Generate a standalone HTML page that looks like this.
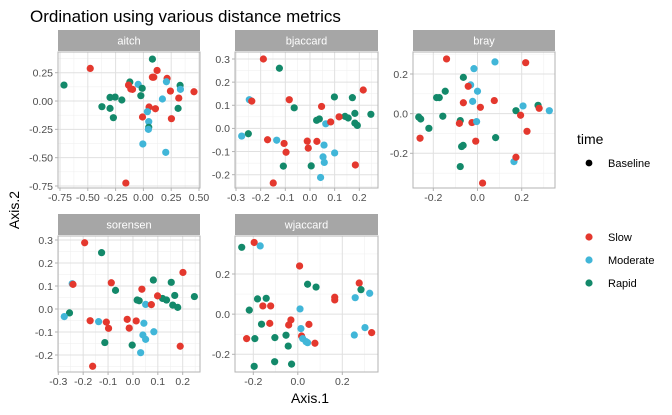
<!DOCTYPE html>
<html><head><meta charset="utf-8">
<style>
body{margin:0;background:#fff;}
svg{display:block;font-family:"Liberation Sans",Arial,sans-serif;}
</style></head>
<body>
<svg id="chart" width="672" height="415" viewBox="0 0 672 415">
<text x="30" y="22" font-size="17" fill="#000">Ordination using various distance metrics</text>
<text x="310" y="403" font-size="14" fill="#000" text-anchor="middle">Axis.1</text>
<text x="0" y="0" font-size="14" fill="#000" text-anchor="middle" transform="translate(19,210) rotate(-90)">Axis.2</text>
<g>
<text x="577" y="144" font-size="14" fill="#000">time</text>
<circle cx="589" cy="163" r="3.4" fill="#000"/>
<text x="608" y="167" font-size="11" fill="#000">Baseline</text>
<circle cx="589" cy="237" r="3.6" fill="#E4382E"/>
<text x="608" y="241" font-size="11" fill="#000">Slow</text>
<circle cx="589" cy="260" r="3.6" fill="#41B6D8"/>
<text x="608" y="264" font-size="11" fill="#000">Moderate</text>
<circle cx="589" cy="283" r="3.6" fill="#13896A"/>
<text x="608" y="287" font-size="11" fill="#000">Rapid</text>
</g>
</svg>
<script>
// ---- data (S = Slow, M = Moderate, R = Rapid) ----
const aitchX=[-0.714,-0.478,0.081,0.123,0.081,0.093,0.213,0.207,-0.122,-0.047,-0.134,-0.113,-0.098,-0.011,-0.30,-0.254,-0.194,-0.373,-0.30,-0.27,-0.023,0.243,0.33,0.333,0.318,0.455,0.171,0.312,0.051,0.108,0.036,0.252,0.048,0.048,0.045,-0.008,-0.005,0.201,-0.158];
const aitchY=[0.141,0.288,0.37,0.27,0.21,0.21,0.2,0.17,0.168,0.147,0.141,0.106,0.103,0.112,0.032,0.035,0.009,-0.05,-0.065,-0.147,0.047,0.088,0.138,0.103,0.026,0.082,0.018,-0.065,-0.053,-0.068,-0.094,-0.156,-0.182,-0.232,-0.25,-0.141,-0.379,-0.453,-0.724];
const aitchG="RSRSSSSMRMSSSRRRRRRRRSRMSSMRSSMSMRMSMMS";
const bjaccardX=[-0.189,-0.124,0.216,-0.246,-0.236,-0.084,-0.064,0.047,0.099,0.172,0.142,0.155,0.182,0.247,0.118,0.027,0.038,0.064,0.084,0.182,0.192,-0.25,-0.277,-0.172,-0.135,-0.105,-0.097,-0.011,-0.007,0.028,0.057,0.1,0.053,0.058,-0.108,0.005,0.184,0.043,-0.149];
const bjaccardY=[0.3,0.26,0.166,0.124,0.118,0.124,0.089,0.095,0.136,0.133,0.052,0.045,0.065,0.061,0.05,0.035,0.041,0.02,0.028,0.023,0.013,-0.023,-0.033,-0.049,-0.051,-0.065,-0.103,-0.055,-0.085,-0.056,-0.072,-0.106,-0.123,-0.147,-0.163,-0.162,-0.158,-0.212,-0.236];
const bjaccardG="SRSMSSRSRRRRRRSRRMSRRRMSMSSSSSMMMMRRSMS";
const brayX=[-0.14,-0.016,0.079,0.218,-0.064,-0.031,-0.042,-0.146,-0.185,-0.173,0,-0.064,-0.022,0.013,0.076,-0.157,-0.266,-0.257,-0.22,-0.26,-0.078,-0.082,-0.025,-0.004,-0.008,0.082,-0.072,-0.065,-0.078,0.023,0.206,0.174,0.195,0.224,0.274,0.279,0.325,0.165,0.174];
const brayY=[0.276,0.227,0.261,0.257,0.183,0.145,0.138,0.113,0.081,0.081,0.113,0.055,0.062,0.032,0.066,-0.013,-0.017,-0.027,-0.074,-0.124,-0.035,-0.049,-0.045,-0.04,-0.139,-0.121,-0.166,-0.16,-0.267,-0.35,0.039,0.015,-0.008,-0.089,0.042,0.027,0.015,-0.242,-0.22];
const brayG="SMMSRMSRRRMSMSSRRRRSRSSMSRRRRSMRSSRSMMS";
const sorensenX=[-0.194,-0.126,0.201,-0.244,-0.241,-0.087,-0.07,0.036,0.082,0.154,0.168,0.119,0.135,0.099,0.017,0.025,0.051,0.074,0.16,0.18,0.247,-0.255,-0.276,-0.172,-0.138,-0.107,-0.098,-0.023,-0.015,0.013,0.044,0.04,0.051,0.084,-0.113,-0.003,0.19,0.031,-0.162];
const sorensenY=[0.288,0.245,0.159,0.11,0.107,0.114,0.081,0.086,0.126,0.116,0.059,0.046,0.039,0.057,0.039,0.036,0.02,0.019,0.017,0.007,0.054,-0.017,-0.033,-0.051,-0.055,-0.057,-0.084,-0.045,-0.083,-0.052,-0.062,-0.113,-0.132,-0.099,-0.146,-0.157,-0.162,-0.19,-0.249];
const sorensenG="SRSMSSRSRRRRRSRRMSRRRRMSMSSSSSMMMMRRSMS";
const wjaccardX=[-0.252,-0.196,-0.169,0.008,0.276,0.284,0.323,0.258,0.166,0.166,0.044,0.082,-0.181,-0.142,-0.157,-0.122,-0.218,0.01,-0.163,-0.126,-0.031,-0.041,0.05,0.014,-0.23,-0.193,-0.103,-0.053,-0.043,0.017,0.022,0.037,0.044,0.077,0.302,0.254,0.332,-0.196,-0.104,-0.028];
const wjaccardY=[0.333,0.357,0.34,0.24,0.155,0.122,0.104,0.082,0.084,0.071,0.149,0.135,0.076,0.079,0.041,0.041,0.02,0.026,-0.05,-0.046,-0.029,-0.054,-0.051,-0.072,-0.122,-0.122,-0.117,-0.105,-0.159,-0.109,-0.122,-0.137,-0.142,-0.145,-0.067,-0.104,-0.092,-0.26,-0.237,-0.249];
const wjaccardG="RSMSSRMMSSRRRRSSRMRSSSSMSRRRRSMMMSMMSRRR";
const aitchXTicks=[-0.75,-0.5,-0.25,0,0.25,0.5];
const aitchXLabels=["-0.75","-0.50","-0.25","0.00","0.25","0.50"];
const aitchYTicks=[0.25,0,-0.25,-0.5,-0.75];
const aitchYLabels=["0.25","0.00","-0.25","-0.50","-0.75"];
const jacTicksX=[-0.3,-0.2,-0.1,0,0.1,0.2];
const jacLabelsX=["-0.3","-0.2","-0.1","0.0","0.1","0.2"];
const jacTicksY=[0.3,0.2,0.1,0,-0.1,-0.2];
const jacLabelsY=["0.3","0.2","0.1","0.0","-0.1","-0.2"];
const smallTicks=[-0.2,0,0.2];
const smallLabels=["-0.2","0.0","0.2"];

const COLORS={S:"#E4382E",M:"#41B6D8",R:"#13896A"};
const NS="http://www.w3.org/2000/svg";
const svg=document.getElementById('chart');
function mk(tag,attrs,parent){const e=document.createElementNS(NS,tag);for(const k in attrs)e.setAttribute(k,attrs[k]);(parent||svg).appendChild(e);return e;}
function lin(v0,p0,v1,p1){const s=(p1-p0)/(v1-v0);return v=>p0+(v-v0)*s;}

const panels=[
 {name:"aitch",L:58,R:200,T:52,B:188,sx:lin(-0.75,60,0.5,199),sy:lin(0.25,72.7,-0.75,186),xt:aitchXTicks,xl:aitchXLabels,yt:aitchYTicks,yl:aitchYLabels,X:aitchX,Y:aitchY,G:aitchG},
 {name:"bjaccard",L:235,R:378,T:52,B:188,sx:lin(-0.3,236,0.2,359.3),sy:lin(0.3,59,-0.2,174.7),xt:jacTicksX,xl:jacLabelsX,yt:jacTicksY,yl:jacLabelsY,X:bjaccardX,Y:bjaccardY,G:bjaccardG},
 {name:"bray",L:413,R:555,T:52,B:188,sx:lin(-0.2,433.3,0.2,521.7),sy:lin(0.2,74,-0.2,153.3),xt:smallTicks,xl:smallLabels,yt:smallTicks,yl:smallLabels,X:brayX,Y:brayY,G:brayG},
 {name:"sorensen",L:58,R:200,T:236,B:372,sx:lin(-0.3,58.3,0.2,182.7),sy:lin(0.3,240,-0.2,355),xt:jacTicksX,xl:jacLabelsX,yt:jacTicksY,yl:jacLabelsY,X:sorensenX,Y:sorensenY,G:sorensenG},
 {name:"wjaccard",L:235,R:378,T:236,B:372,sx:lin(-0.2,253.3,0.2,342.3),sy:lin(0.2,274,-0.2,354.3),xt:smallTicks,xl:smallLabels,yt:smallTicks,yl:smallLabels,X:wjaccardX,Y:wjaccardY,G:wjaccardG}
];
panels.forEach(p=>{
 const g=mk('g',{});
 
 
 const strip=mk('rect',{x:p.L,y:p.T-22,width:p.R-p.L,height:21,fill:"#A6A6A6"},g);
 
 
 const st=mk('text',{x:(p.L+p.R)/2,y:p.T-7.5,"font-size":11,fill:"#fff","text-anchor":"middle"},g);
 st.textContent=p.name;
 
 
 const dx=p.xt[1]-p.xt[0], dy=p.yt[1]-p.yt[0];
 for(let k=-2;k<p.xt.length+2;k++){const px=p.sx(p.xt[0]+(k+0.5)*dx);if(px>p.L&&px<p.R)mk('line',{x1:px,x2:px,y1:p.T,y2:p.B,stroke:"#EEEEEE","stroke-width":0.5},g);}
 for(let k=-2;k<p.yt.length+2;k++){const py=p.sy(p.yt[0]+(k+0.5)*dy);if(py>p.T&&py<p.B)mk('line',{x1:p.L,x2:p.R,y1:py,y2:py,stroke:"#EEEEEE","stroke-width":0.5},g);}
 p.xt.forEach((v,i)=>{const px=p.sx(v);
  mk('line',{x1:px,x2:px,y1:p.T,y2:p.B,stroke:"#E0E0E0","stroke-width":1},g);
  mk('line',{x1:px,x2:px,y1:p.B,y2:p.B+3,stroke:"#B3B3B3","stroke-width":1},g);
  const t=mk('text',{x:px,y:p.B+13,"font-size":10.5,fill:"#4D4D4D","text-anchor":"middle"},g);
  t.textContent=p.xl[i];
  
  });
 p.yt.forEach((v,i)=>{const py=p.sy(v);
  mk('line',{x1:p.L,x2:p.R,y1:py,y2:py,stroke:"#E0E0E0","stroke-width":1},g);
  mk('line',{x1:p.L-3,x2:p.L,y1:py,y2:py,stroke:"#B3B3B3","stroke-width":1},g);
  const t=mk('text',{x:p.L-5,y:py+3.8,"font-size":10.5,fill:"#4D4D4D","text-anchor":"end"},g);
  t.textContent=p.yl[i];
  
  });
 mk('rect',{x:p.L,y:p.T,width:p.R-p.L,height:p.B-p.T,fill:"none",stroke:"#B3B3B3","stroke-width":1},g);
 p.X.forEach((xv,i)=>{
  const c=mk('circle',{cx:p.sx(xv),cy:p.sy(p.Y[i]),r:3.6,fill:COLORS[p.G[i]]},g);
  
  
 });
});
</script>
</body></html>
